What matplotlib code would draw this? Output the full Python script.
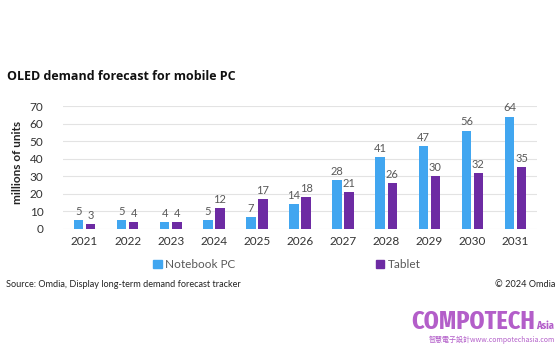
import matplotlib
matplotlib.use("Agg")
import matplotlib.pyplot as plt
import numpy as np
from matplotlib.patches import Patch

years = ["2021", "2022", "2023", "2024", "2025", "2026", "2027", "2028", "2029", "2030", "2031"]
notebook = [5, 5, 4, 5, 7, 14, 28, 41, 47, 56, 64]
tablet = [3, 4, 4, 12, 17, 18, 21, 26, 30, 32, 35]
yticks = [0, 10, 20, 30, 40, 50, 60, 70]

c_nb = "#41a6f0"
c_tb = "#6d2ba3"
grey = "#595959"

plt.rcParams['font.family'] = ['Lato', 'DejaVu Sans']

fig = plt.figure(figsize=(5.6, 3.51), dpi=100)
ax = fig.add_axes([0.1125, 0.3476, 0.8465, 0.3504])

x = np.arange(len(years))
w = 0.22
off = 0.14
b1 = ax.bar(x - off, notebook, w, color=c_nb)
b2 = ax.bar(x + off, tablet, w, color=c_tb)
for rect, v in zip(b1, notebook):
    ax.text(rect.get_x() + rect.get_width() / 2, v + 1.8, str(v), ha='center', va='bottom', fontsize=8, color=grey)
for rect, v in zip(b2, tablet):
    ax.text(rect.get_x() + rect.get_width() / 2, v + 1.8, str(v), ha='center', va='bottom', fontsize=8, color=grey)

ax.set_xlim(-0.5, len(years) - 0.5)
ax.set_ylim(0, 70)
ax.set_yticks(yticks)
ax.set_yticklabels([str(t) for t in yticks], fontsize=8.5, color="#333333")
ax.set_xticks(x)
ax.set_xticklabels(years, fontsize=8.5, color="#333333")
ax.tick_params(length=0, pad=5)
ax.tick_params(axis='y', pad=14)
for s in ax.spines.values():
    s.set_visible(False)
ax.grid(axis='y', color="#e3e3e3", linewidth=0.8)
ax.set_axisbelow(True)
ax.set_ylabel("millions of units", fontsize=8.5, fontweight='bold', color="#222222", labelpad=5)
ax.yaxis.set_label_coords(-0.085, 0.54)

fig.text(0.013, 0.772, "OLED demand forecast for mobile PC", fontsize=9.0, fontweight='bold', color="#111111", family=['Open Sans', 'DejaVu Sans'])

handles = [Patch(color=c_nb), Patch(color=c_tb)]
fig.legend(handles, ["Notebook PC", "Tablet"], loc='center left', bbox_to_anchor=(0.274, 0.247), ncol=2,
           frameon=False, fontsize=8.5, labelcolor=grey, handlelength=0.7, handleheight=0.7,
           handletextpad=0.3, columnspacing=11.9, borderaxespad=0, borderpad=0)

fig.text(0.01, 0.19, "Source: Omdia, Display long-term demand forecast tracker", fontsize=6.6, color="#222222", va='center')
fig.text(0.992, 0.19, "\u00a9 2024 Omdia", fontsize=6.6, color="#222222", ha='right', va='center')

logo = "#b35ec9"
logo_font = ['Fira Sans Extra Condensed', 'Fira Sans Condensed', 'DejaVu Sans']
fig.text(0.955, 0.063, "COMPOTECH", fontsize=18.8, fontweight='bold', color=logo, ha='right', va='baseline',
         family=logo_font)
fig.text(0.957, 0.063, "Asia", fontsize=8, fontweight='bold', color=logo, ha='left', va='baseline',
         family=logo_font)
fig.text(0.991, 0.026, "智慧電子設計www.compotechasia.com", fontsize=5.0, color=logo, ha='right', va='baseline',
         family=['Noto Sans CJK TC', 'DejaVu Sans'])

fig.savefig("out.png", dpi=100)
